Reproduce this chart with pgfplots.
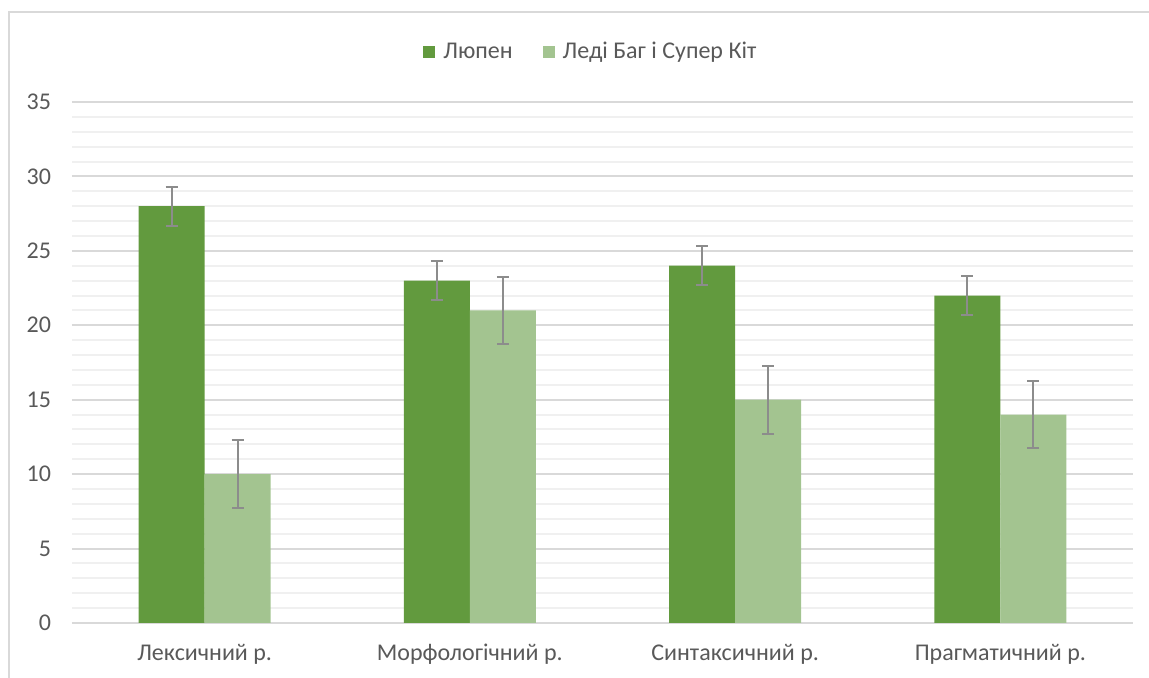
\documentclass[border=0pt]{standalone}
\usepackage{fontspec}
\setmainfont{Carlito}
\usepackage{pgfplots}
\pgfplotsset{compat=1.18}
\definecolor{darkg}{HTML}{629A3E}
\definecolor{lightg}{HTML}{A3C490}
\definecolor{errg}{HTML}{8C8C8C}
\definecolor{txt}{HTML}{595959}
\definecolor{majg}{HTML}{D9D9D9}
\definecolor{ming}{HTML}{F0F0F0}
\begin{document}
\begin{tikzpicture}
% 1 px of the reference = 0.5pt, axis lower left at pixel (72,623)
\useasboundingbox (-36pt,-27.5pt) rectangle (538.5pt,311.5pt);
\draw[majg, line width=1pt] (-31.5pt,-27.5pt) -- (-31.5pt,305.25pt) -- (538.5pt,305.25pt);
\begin{axis}[
    at={(0pt,0pt)}, anchor=south west,
    scale only axis,
    width=530.5pt, height=260.5pt,
    ybar=0pt, bar width=33pt,
    xmin=-0.5, xmax=3.5,
    ymin=0, ymax=35,
    xtick=data,
    xticklabels={Лексичний р., Морфологічний р., Синтаксичний р., Прагматичний р.},
    ytick={0,5,...,35},
    minor y tick num=4,
    ymajorgrids, yminorgrids,
    major grid style={majg, line width=1pt},
    minor grid style={ming, line width=1pt},
    axis line style={draw=none},
    major tick length=0pt, minor tick length=0pt,
    tick label style={font=\fontsize{12}{14}\selectfont, text=txt},
    /pgf/number format/assume math mode=true,
    yticklabel style={xshift=-7pt},
    xticklabel style={yshift=-7pt},
    legend style={at={(0.49,1.096)}, anchor=center, draw=none, fill=none,
        legend columns=-1, font=\fontsize{12}{14}\selectfont, text=txt,
        /tikz/every even column/.append style={column sep=13pt}},
    legend image code/.code={\fill[#1] (0pt,-3pt) rectangle (6pt,3pt); \path (8pt,0pt);},
]
\addplot[fill=darkg, draw=none, error bars/.cd, y dir=both, y explicit,
    error bar style={errg, line width=1pt},
    error mark options={errg, rotate=90, mark size=3pt, line width=1pt}]
  coordinates {(0,28) +- (0,1.3) (1,23) +- (0,1.3) (2,24) +- (0,1.3) (3,22) +- (0,1.3)};
\addplot[fill=lightg, draw=none, error bars/.cd, y dir=both, y explicit,
    error bar style={errg, line width=1pt},
    error mark options={errg, rotate=90, mark size=3pt, line width=1pt}]
  coordinates {(0,10) +- (0,2.27) (1,21) +- (0,2.27) (2,15) +- (0,2.27) (3,14) +- (0,2.27)};
\legend{Люпен, Леді Баг і Супер Кіт}
\end{axis}
\end{tikzpicture}
\end{document}
